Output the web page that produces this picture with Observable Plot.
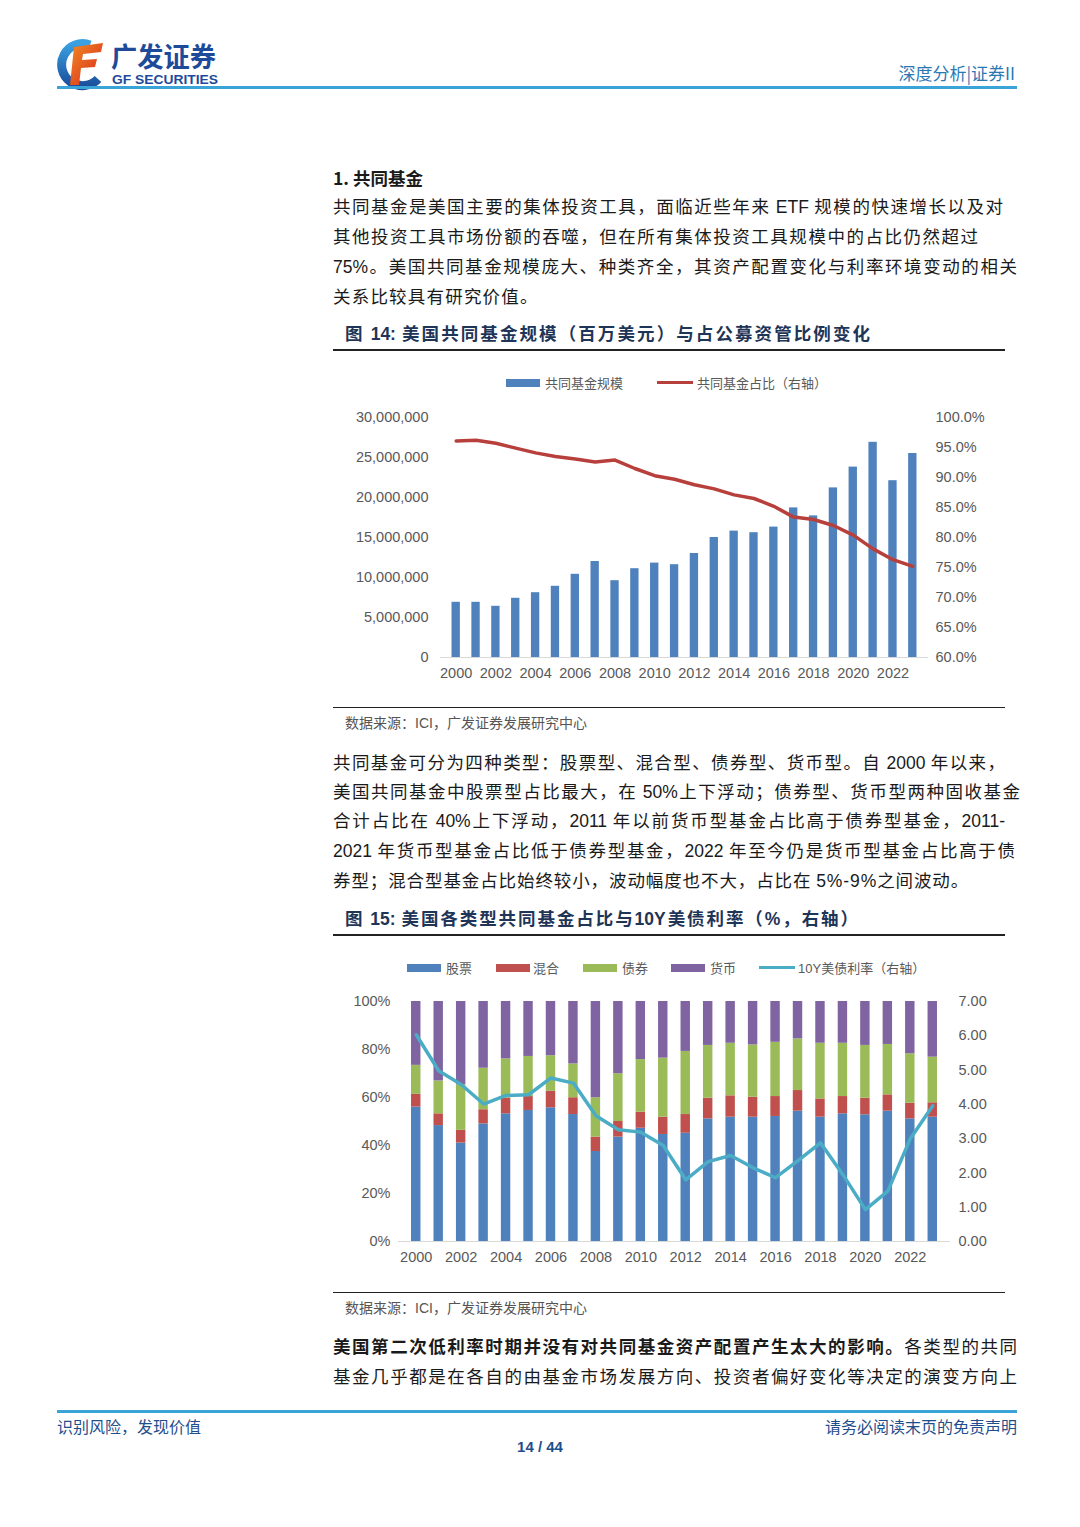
<!DOCTYPE html>
<html><head><meta charset="utf-8">
<script src="https://cdn.jsdelivr.net/npm/d3@7"></script>
<script src="https://cdn.jsdelivr.net/npm/@observablehq/plot@0.6"></script>
<style>
html,body{margin:0;padding:0;background:#fff;}
#page{position:relative;width:1080px;height:1527px;overflow:hidden;font-family:"Noto Sans CJK SC","Noto Sans",sans-serif;color:#222;}
.abs{position:absolute;white-space:nowrap;}
.ln{position:absolute;left:333px;height:30px;line-height:30px;font-size:17.5px;color:#1a1a1a;white-space:nowrap;}
.jf{text-align:justify;text-align-last:justify;}
.num{font-family:"Liberation Sans",Arial,sans-serif;}
.ftitle{position:absolute;left:345px;height:28px;line-height:28px;font-size:17.5px;font-weight:700;color:#1f3557;white-space:nowrap;}
.rule{position:absolute;left:333px;width:672px;background:#222;}
.src{position:absolute;left:345px;font-size:14px;color:#555;line-height:20px;white-space:nowrap;}
.leg{position:absolute;font-size:13px;color:#595959;line-height:16px;white-space:nowrap;}
.sw{position:absolute;height:8px;}
.sl{position:absolute;height:3px;}
</style></head>
<body><div id="page">

<!-- header -->
<svg class="abs" style="left:50px;top:35px" width="180" height="56" viewBox="0 0 180 56">
  <defs>
    <linearGradient id="gb" x1="0" y1="0" x2="0" y2="1"><stop offset="0" stop-color="#3aa0e0"/><stop offset="1" stop-color="#1b4f9c"/></linearGradient>
    <linearGradient id="gr" x1="0" y1="0" x2="1" y2="1"><stop offset="0" stop-color="#f08a24"/><stop offset="1" stop-color="#d9261c"/></linearGradient>
  </defs>
  <path d="M40 10 A21 21 0 1 0 48 44" fill="none" stroke="url(#gb)" stroke-width="9"/>
  <path d="M24 12 L53 8 L51 17 L33 19 L32 25 L47 24 L45 32 L31 33 L29 50 L20 50 Z" fill="url(#gr)"/>
  <text x="61" y="32" font-family="Noto Sans CJK SC" font-weight="700" font-size="27" fill="#1e4a9a" textLength="105" lengthAdjust="spacingAndGlyphs">广发证券</text>
  <text x="62" y="49" font-family="Liberation Sans" font-weight="700" font-size="12.5" fill="#1e4a9a" textLength="106" lengthAdjust="spacingAndGlyphs">GF SECURITIES</text>
</svg>
<div class="abs" style="right:65px;top:61px;font-size:17px;color:#2b78b5;line-height:24px;">深度分析|证券II</div>
<div class="abs" style="left:57px;top:86px;width:960px;height:3px;background:#3aa3d8;"></div>

<!-- section 1 -->
<div class="ln" style="top:163px;font-weight:700;">1. 共同基金</div>
<div class="ln jf" style="top:191px;width:670px;">共同基金是美国主要的集体投资工具，面临近些年来 <span class="num">ETF</span> 规模的快速增长以及对</div>
<div class="ln jf" style="top:221px;width:645px;">其他投资工具市场份额的吞噬，但在所有集体投资工具规模中的占比仍然超过</div>
<div class="ln jf" style="top:251px;width:684px;"><span class="num">75%</span>。美国共同基金规模庞大、种类齐全，其资产配置变化与利率环境变动的相关</div>
<div class="ln" style="top:281px;letter-spacing:1.2px;">关系比较具有研究价值。</div>

<div class="ftitle jf" style="top:319px;width:525px;">图 <span class="num">14:</span> 美国共同基金规模（百万美元）与占公募资管比例变化</div>
<div class="rule" style="top:349px;height:2px;"></div>

<!-- chart 1 legend -->
<div class="sw" style="left:506px;top:379px;width:34px;background:#4f81bd;"></div>
<div class="leg" style="left:545px;top:375px;">共同基金规模</div>
<div class="sl" style="left:657px;top:381px;width:36px;background:#b8403c;"></div>
<div class="leg" style="left:697px;top:375px;">共同基金占比（右轴）</div>
<div id="chart1" class="abs" style="left:333px;top:395px;"></div>

<div class="rule" style="top:707px;height:1px;"></div>
<div class="src" style="top:712px;">数据来源：<span class="num">ICI</span>，广发证券发展研究中心</div>

<div class="ln jf" style="top:747px;width:672px;">共同基金可分为四种类型：股票型、混合型、债券型、货币型。自 <span class="num">2000</span> 年以来，</div>
<div class="ln jf" style="top:776px;width:687px;">美国共同基金中股票型占比最大，在 <span class="num">50%</span>上下浮动；债券型、货币型两种固收基金</div>
<div class="ln jf" style="top:805px;width:672px;">合计占比在 <span class="num">40%</span>上下浮动，<span class="num">2011</span> 年以前货币型基金占比高于债券型基金，<span class="num">2011-</span></div>
<div class="ln jf" style="top:835px;width:682px;"><span class="num">2021</span> 年货币型基金占比低于债券型基金，<span class="num">2022</span> 年至今仍是货币型基金占比高于债</div>
<div class="ln" style="top:865px;letter-spacing:0.9px;">券型；混合型基金占比始终较小，波动幅度也不大，占比在 <span class="num">5%-9%</span>之间波动。</div>

<div class="ftitle jf" style="top:904px;width:513px;">图 <span class="num">15:</span> 美国各类型共同基金占比与<span class="num">10Y</span>美债利率（<span class="num">%</span>，右轴）</div>
<div class="rule" style="top:934px;height:2px;"></div>

<!-- chart 2 legend -->
<div class="sw" style="left:407px;top:964px;width:34px;background:#4f81bd;"></div>
<div class="leg" style="left:446px;top:960px;">股票</div>
<div class="sw" style="left:496px;top:964px;width:34px;background:#c0504d;"></div>
<div class="leg" style="left:533px;top:960px;">混合</div>
<div class="sw" style="left:583px;top:964px;width:34px;background:#9bbb59;"></div>
<div class="leg" style="left:622px;top:960px;">债券</div>
<div class="sw" style="left:671px;top:964px;width:34px;background:#8064a2;"></div>
<div class="leg" style="left:710px;top:960px;">货币</div>
<div class="sl" style="left:759px;top:966px;width:36px;background:#4bacc6;"></div>
<div class="leg" style="left:798px;top:960px;"><span class="num">10Y</span>美债利率（右轴）</div>
<div id="chart2" class="abs" style="left:333px;top:985px;"></div>

<div class="rule" style="top:1292px;height:1px;"></div>
<div class="src" style="top:1297px;">数据来源：<span class="num">ICI</span>，广发证券发展研究中心</div>

<div class="ln jf" style="top:1331px;width:684px;"><b>美国第二次低利率时期并没有对共同基金资产配置产生太大的影响。</b>各类型的共同</div>
<div class="ln jf" style="top:1361px;width:684px;">基金几乎都是在各自的由基金市场发展方向、投资者偏好变化等决定的演变方向上</div>

<!-- footer -->
<div class="abs" style="left:57px;top:1410px;width:960px;height:3px;background:#3aa3d8;"></div>
<div class="abs" style="left:57px;top:1415px;font-size:16px;color:#1f4e8c;line-height:22px;">识别风险，发现价值</div>
<div class="abs" style="right:63px;top:1415px;font-size:16px;color:#1f4e8c;line-height:22px;">请务必阅读末页的免责声明</div>
<div class="abs num" style="left:490px;width:100px;text-align:center;top:1437px;font-size:15px;font-weight:700;color:#1f4e8c;line-height:20px;">14 / 44</div>

</div>
<script>
// ---------- data ----------
const years = [2000,2001,2002,2003,2004,2005,2006,2007,2008,2009,2010,2011,2012,2013,2014,2015,2016,2017,2018,2019,2020,2021,2022,2023];
const yearTicks = [2000,2002,2004,2006,2008,2010,2012,2014,2016,2018,2020,2022];

// Figure 14: mutual fund assets (million USD) and share of public fund AUM (%)
const fundSize = [6900000,6900000,6400000,7400000,8100000,8900000,10400000,12000000,9600000,11100000,11800000,11600000,13000000,15000000,15800000,15600000,16300000,18700000,17700000,21200000,23800000,26900000,22100000,25500000];
const fundShare = [96.1,96.2,95.7,94.9,94.1,93.5,93.1,92.6,92.9,91.5,90.3,89.7,88.8,88.1,87.1,86.5,85.2,83.4,83.0,82.0,80.4,78.1,76.3,75.2];
const sizeTicks = [0,5000000,10000000,15000000,20000000,25000000,30000000];
const shareTicks = [60,65,70,75,80,85,90,95,100];

// Figure 15: share by type (%) and 10Y treasury yield
const typeNames = ["股票","混合","债券","货币"];
const typeColors = ["#4f81bd","#c0504d","#9bbb59","#8064a2"];
const equity = [56.0,48.3,41.0,49.0,53.2,54.6,55.7,52.9,37.5,43.5,47.2,44.6,45.1,51.1,51.8,51.8,52.1,54.3,51.8,53.2,52.8,54.3,51.1,51.8];
const hybrid = [5.3,4.9,5.3,5.9,6.5,5.8,6.9,7.0,6.0,6.5,6.7,7.2,7.8,8.6,8.9,8.3,8.3,8.6,7.6,7.2,6.9,6.8,6.5,6.0];
const bond   = [12.1,13.7,19.0,17.3,16.4,16.7,14.8,14.1,16.4,19.9,21.9,24.6,26.3,22.0,21.9,21.8,22.6,21.5,23.2,22.2,22.0,21.0,20.6,19.0];
const money  = [26.6,33.1,34.7,27.8,23.9,22.9,22.6,26.0,40.1,30.1,24.2,23.6,20.8,18.3,17.4,18.1,17.0,15.6,17.4,17.4,18.3,17.9,21.8,23.2];
const rate10y = [6.03,4.98,4.58,4.01,4.26,4.28,4.77,4.62,3.67,3.26,3.19,2.80,1.80,2.33,2.51,2.15,1.86,2.36,2.88,1.95,0.93,1.47,3.00,3.96];
const pctTicks = [0,20,40,60,80,100];
const rateTicks = [0,1,2,3,4,5,6,7];

const axisStyle = {fontFamily:"'Liberation Sans',Arial,sans-serif", fontSize:"14.5px", color:"#595959", background:"transparent", overflow:"visible"};

// ---------- chart 1 ----------
const sizeMax = 30000000;
const shareToY = p => (p - 60) / 40 * sizeMax;
const yToShare = v => Math.round(v / sizeMax * 40 + 60);
const data1 = years.map((y,i) => ({year:y, size:fundSize[i], share:fundShare[i]}));

const c1 = Plot.plot({
  width:684, height:300, marginLeft:107, marginRight:89, marginTop:22, marginBottom:38,
  style:axisStyle,
  x:{type:"band", domain:years, padding:0.58, round:false, axis:null},
  y:{domain:[0,sizeMax], axis:null},
  marks:[
    Plot.barY(data1, {x:"year", y:"size", fill:"#4f81bd"}),
    Plot.ruleY([0], {stroke:"#d9d9d9", strokeWidth:1}),
    Plot.line(data1, {x:"year", y:d => shareToY(d.share), stroke:"#b8403c", strokeWidth:3.5, curve:"linear"}),
    Plot.axisX({ticks:yearTicks, tickSize:0, tickPadding:10, tickFormat:d => String(d), label:null}),
    Plot.axisY({anchor:"left", ticks:sizeTicks, tickSize:0, tickPadding:12, tickFormat:d3.format(","), label:null}),
    Plot.axisY({anchor:"right", ticks:shareTicks.map(shareToY), tickSize:0, tickPadding:7, tickFormat:v => yToShare(v).toFixed(1) + "%", label:null})
  ]
});
document.getElementById("chart1").appendChild(c1);

// ---------- chart 2 ----------
const series = [equity, hybrid, bond, money];
const data2 = [];
years.forEach((y,i) => typeNames.forEach((t,k) => data2.push({year:y, type:t, value:series[k][i]})));
const data2line = years.map((y,i) => ({year:y, rate:rate10y[i]}));
const rateToY = r => r / 7 * 100;
const yToRate = v => Math.round(v / 100 * 7);

const c2 = Plot.plot({
  width:684, height:290, marginLeft:65, marginRight:67, marginTop:16, marginBottom:34,
  style:axisStyle,
  x:{type:"band", domain:years, padding:0.58, round:false, axis:null},
  y:{domain:[0,100], axis:null},
  color:{domain:typeNames, range:typeColors},
  marks:[
    Plot.barY(data2, {x:"year", y:"value", fill:"type", order:typeNames}),
    Plot.ruleY([0], {stroke:"#d9d9d9", strokeWidth:1}),
    Plot.line(data2line, {x:"year", y:d => rateToY(d.rate), stroke:"#4bacc6", strokeWidth:3.5}),
    Plot.axisX({ticks:yearTicks, tickSize:0, tickPadding:10, tickFormat:d => String(d), label:null}),
    Plot.axisY({anchor:"left", ticks:pctTicks, tickSize:0, tickPadding:8, tickFormat:d => d + "%", label:null}),
    Plot.axisY({anchor:"right", ticks:rateTicks.map(rateToY), tickSize:0, tickPadding:8, tickFormat:v => yToRate(v).toFixed(2), label:null})
  ]
});
document.getElementById("chart2").appendChild(c2);
</script>
</body></html>
